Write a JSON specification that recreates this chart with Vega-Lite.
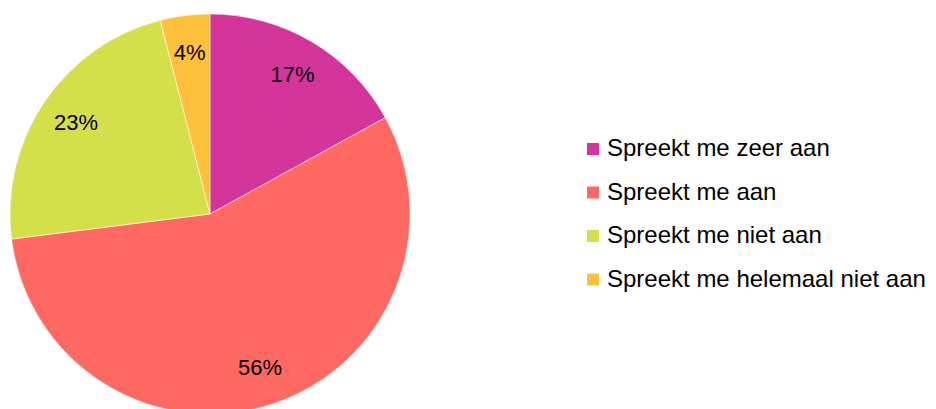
{
  "$schema": "https://vega.github.io/schema/vega-lite/v6.json",
  "width": 420,
  "height": 428,
  "padding": 0,
  "autosize": {"type": "pad"},
  "background": "white",
  "config": {"view": {"stroke": null}, "font": "Liberation Sans"},
  "data": {
    "values": [
      {"cat": "Spreekt me zeer aan", "value": 17, "order": 1, "label": "17%"},
      {"cat": "Spreekt me aan", "value": 56, "order": 2, "label": "56%"},
      {"cat": "Spreekt me niet aan", "value": 23, "order": 3, "label": "23%"},
      {"cat": "Spreekt me helemaal niet aan", "value": 4, "order": 4, "label": "4%"}
    ]
  },
  "encoding": {
    "theta": {"field": "value", "type": "quantitative", "stack": true},
    "order": {"field": "order", "type": "quantitative"},
    "color": {
      "field": "cat",
      "type": "nominal",
      "sort": ["Spreekt me zeer aan", "Spreekt me aan", "Spreekt me niet aan", "Spreekt me helemaal niet aan"],
      "scale": {
        "domain": ["Spreekt me zeer aan", "Spreekt me aan", "Spreekt me niet aan", "Spreekt me helemaal niet aan"],
        "range": ["#D3359B", "#FF6961", "#D4E04A", "#FFC13B"]
      },
      "legend": {
        "title": null,
        "orient": "none",
        "legendX": 581,
        "legendY": 137,
        "symbolType": "square",
        "symbolSize": 144,
        "symbolStrokeWidth": 0,
        "labelFontSize": 24,
        "labelFont": "Liberation Sans",
        "labelColor": "#000000",
        "labelOffset": 2,
        "rowPadding": 19.5,
        "labelLimit": 400
      }
    }
  },
  "layer": [
    {
      "mark": {"type": "arc", "outerRadius": 200, "stroke": "white", "strokeWidth": 0.5}
    },
    {
      "mark": {"type": "text", "radius": 162, "fontSize": 22, "font": "Liberation Sans", "color": "black"},
      "encoding": {
        "text": {"field": "label", "type": "nominal"},
        "color": {"value": "black"}
      }
    }
  ]
}
